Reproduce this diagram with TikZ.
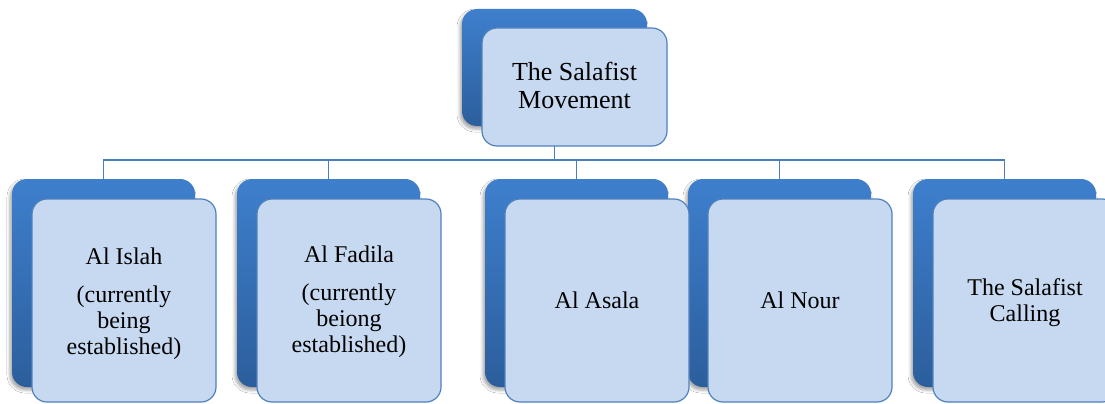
\documentclass[tikz,border=0pt]{standalone}
\usepackage{fontspec}
\setmainfont{Liberation Serif}
\usetikzlibrary{shadows.blur}
\definecolor{backtop}{HTML}{3E7FCD}
\definecolor{backbot}{HTML}{2C5E9C}
\definecolor{frontfill}{HTML}{C6D9F1}
\definecolor{frontline}{HTML}{4F81BD}
\definecolor{connc}{HTML}{4A7EBB}
\tikzset{
  backbox/.style={rectangle, rounded corners=15pt, top color=backtop, bottom color=backbot,
    draw=none, inner sep=0pt,
    blur shadow={shadow xshift=-2pt, shadow yshift=-3pt, shadow blur radius=3pt, shadow opacity=35}},
  frontbox/.style={rectangle, rounded corners=15pt, fill=frontfill, draw=frontline,
    line width=1.2pt, inner sep=0pt},
  childback/.style={backbox, minimum width=183pt, minimum height=208pt},
  childfront/.style={frontbox, minimum width=184pt, minimum height=203pt},
  boxtext/.style={align=center, inner sep=0pt, text=black, font=\fontsize{24}{26}\selectfont},
  connector/.style={draw=connc, line width=1.2pt}
}
\begin{document}
\begin{tikzpicture}[x=1pt, y=-1pt]
\clip (0,0) rectangle (1105,404);
\fill[white] (0,0) rectangle (1105,404);

% back boxes
\node[backbox, minimum width=185pt, minimum height=117pt] (topb) at (554.5,67.5) {};
\node[childback] (c1b) at (103.5,283) {};
\node[childback] (c2b) at (328.5,283) {};
\node[childback] (c3b) at (576.5,283) {};
\node[childback] (c4b) at (779.5,283) {};
\node[childback] (c5b) at (1004.5,283) {};

% connectors
\coordinate (bus) at (554.5,160);
\draw[connector] (topb.south) -- (topb.south |- bus) -| (c1b.north);
\draw[connector] (topb.south |- bus) -| (c2b.north);
\draw[connector] (topb.south |- bus) -| (c3b.north);
\draw[connector] (topb.south |- bus) -| (c4b.north);
\draw[connector] (topb.south |- bus) -| (c5b.north);

% front boxes
\node[frontbox, minimum width=185pt, minimum height=118pt] (top) at (574.5,87) {};
\node[childfront] (c1) at (124,300.5) {};
\node[childfront] (c2) at (349,300.5) {};
\node[childfront] (c3) at (597,300.5) {};
\node[childfront] (c4) at (800,300.5) {};
\node[childfront] (c5) at (1025,300.5) {};

% texts
\node[boxtext, font=\fontsize{26}{28}\selectfont] (topt) at ([yshift=1.5pt]top.center) {The Salafist\\Movement};
\node[boxtext] (c1t) at ([yshift=-3pt]c1.center) {Al Islah\\[12pt](currently\\being\\established)};
\node[boxtext] (c2t) at ([yshift=-1pt]c2.center) {Al Fadila\\[12pt](currently\\beiong\\established)};
\node[boxtext] (c3t) at (c3.center) {Al Asala};
\node[boxtext] (c4t) at (c4.center) {Al Nour};
\node[boxtext] (c5t) at ([yshift=-2.5pt]c5.center) {The Salafist\\Calling};
\end{tikzpicture}
\end{document}
